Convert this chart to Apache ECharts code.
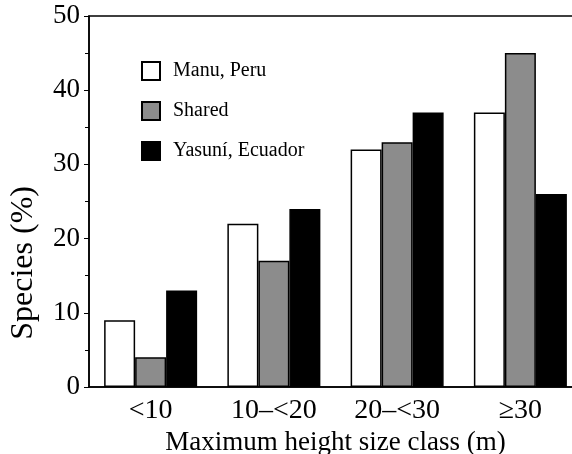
<!DOCTYPE html>
<html>
<head>
<meta charset="utf-8">
<script src="https://cdn.jsdelivr.net/npm/echarts@6/dist/echarts.min.js"></script>
<style>
html,body{margin:0;padding:0;background:#fff;overflow:hidden;width:572px;height:454px;}
#chart{width:600px;height:454px;}
</style>
</head>
<body>
<div id="chart"></div>
<script>
const categories = ['<10', '10–<20', '20–<30', '≥30'];
const manu = [9, 22, 32, 37];
const shared = [4, 17, 33, 45];
const yasuni = [13, 24, 37, 26];
const seriesNames = ['Manu, Peru', 'Shared', 'Yasuní, Ecuador'];
const yTicks = [0, 10, 20, 30, 40, 50];

const FONT = '"Liberation Serif", "DejaVu Serif", serif';
const chart = echarts.init(document.getElementById('chart'), null, {renderer: 'canvas'});

const barStyle = (fill) => ({color: fill, borderColor: '#000', borderWidth: 1.5});

chart.setOption({
  animation: false,
  backgroundColor: '#fff',
  grid: {left: 89, top: 16, width: 493, height: 371, containLabel: false, outerBoundsMode: 'none',
         show: true, borderColor: '#000', borderWidth: 1.5, backgroundColor: 'transparent'},
  legend: {
    orient: 'vertical', left: 136, top: 56,
    icon: 'rect',
    itemWidth: 18, itemHeight: 18, itemGap: 20,
    textStyle: {fontFamily: FONT, fontSize: 20, color: '#000', lineHeight: 18, padding: [0, 0, 0, 8]},
    data: seriesNames
  },
  xAxis: {
    type: 'category', data: categories,
    axisLine: {lineStyle: {color: '#000', width: 1.5}},
    axisTick: {show: false},
    axisLabel: {fontFamily: FONT, fontSize: 28, color: '#000', margin: 10},
    name: 'Maximum height size class (m)', nameLocation: 'middle', nameGap: 40,
    nameTextStyle: {fontFamily: FONT, fontSize: 27, color: '#000'}
  },
  yAxis: {
    type: 'value', min: yTicks[0], max: yTicks[yTicks.length - 1], interval: 10,
    axisLine: {show: true, lineStyle: {color: '#000', width: 1.5}},
    axisTick: {show: true, inside: false, length: 5, lineStyle: {color: '#000', width: 1}},
    minorTick: {show: true, splitNumber: 2, length: 4, lineStyle: {color: '#000', width: 1}},
    splitLine: {show: false},
    axisLabel: {fontFamily: FONT, fontSize: 27, color: '#000', margin: 9, padding: [3, 0, 0, 0]}
  },
  graphic: [{
    type: 'text', left: 8, top: 186, rotation: Math.PI / 2,
    style: {text: 'Species (%)', font: '32px ' + FONT, fill: '#000'}
  }],
  series: [
    {name: seriesNames[0], type: 'bar', data: manu, barWidth: 31, barGap: '0%', itemStyle: barStyle('#ffffff')},
    {name: seriesNames[1], type: 'bar', data: shared, barWidth: 31, barGap: '0%', itemStyle: barStyle('#8c8c8c')},
    {name: seriesNames[2], type: 'bar', data: yasuni, barWidth: 31, barGap: '0%', itemStyle: barStyle('#000000')}
  ]
});
</script>
</body>
</html>
